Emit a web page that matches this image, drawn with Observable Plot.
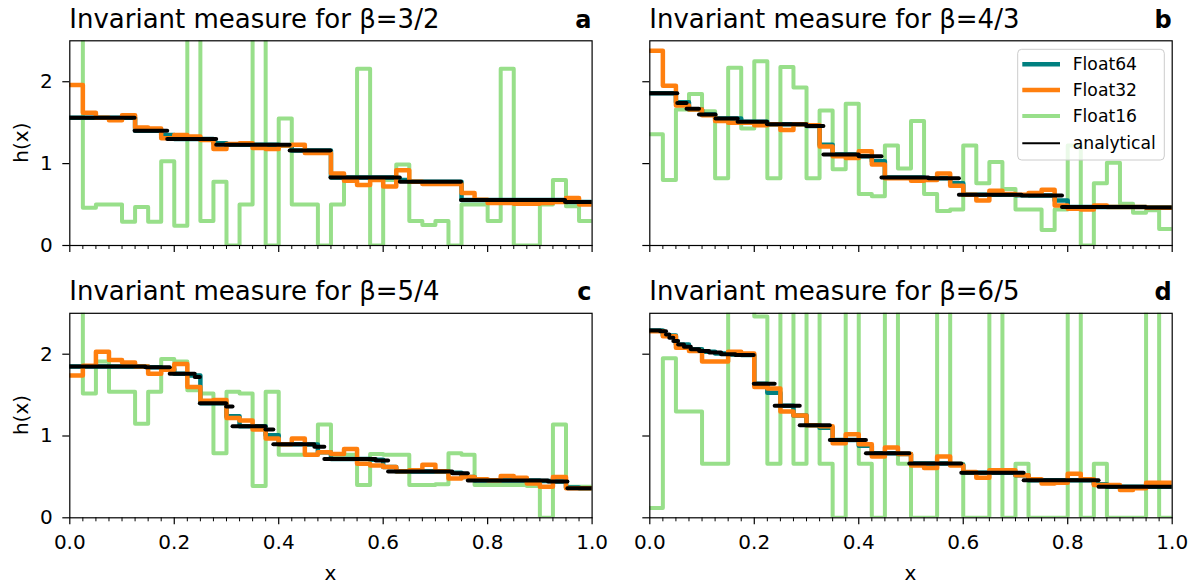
<!DOCTYPE html>
<html><head><meta charset="utf-8">
<script src="https://cdn.jsdelivr.net/npm/d3@7"></script>
<script src="https://cdn.jsdelivr.net/npm/@observablehq/plot@0.6"></script>
<style>
body{margin:0;background:#fff;font-family:"DejaVu Sans",sans-serif;}
#fig{position:relative;width:1199px;height:585px;overflow:hidden;background:#fff;}
.panel{position:absolute;}
#overlay{position:absolute;left:0;top:0;pointer-events:none;}
</style></head><body><div id="fig"></div>
<script>
// ---------- data (40 bins of width 0.025 on [0,1]) ----------
const titles = ["Invariant measure for β=3/2","Invariant measure for β=4/3","Invariant measure for β=5/4","Invariant measure for β=6/5"];
const letters = ["a","b","c","d"];
const seriesNames = ["Float64","Float32","Float16","analytical"];
const xTickLabels = [0, 0.2, 0.4, 0.6, 0.8, 1.0];
const yTickLabels = [0, 1, 2];

// panel a (beta = 3/2)
const f64_a = [1.56,1.56,1.56,1.56,1.56,1.40,1.40,1.35,1.30,1.30,1.30,1.25,1.23,1.23,1.23,1.23,1.22,1.16,1.16,1.16,0.83,0.83,0.83,0.83,0.83,0.80,0.78,0.78,0.78,0.78,0.555,0.555,0.555,0.555,0.555,0.555,0.555,0.555,0.53,0.53];
const f32_a = [1.96,1.62,1.56,1.53,1.59,1.44,1.43,1.31,1.35,1.33,1.29,1.18,1.24,1.25,1.19,1.18,1.22,1.23,1.13,1.13,0.88,0.79,0.74,0.80,0.72,0.92,0.78,0.75,0.75,0.75,0.64,0.56,0.52,0.52,0.51,0.51,0.52,0.53,0.58,0.50];
const f16_a = [3.3,0.46,0.50,0.50,0.29,0.47,0.29,1.03,0.24,3.3,0.30,0.78,0,0.50,3.3,0,1.55,0.50,0.50,0,0.50,0.80,2.16,0,0.80,0.99,0.30,0.25,0.30,0,0.50,0.50,0.30,2.16,0,0,0.50,0.80,0.48,0.30];
const anaBreaks_a = [0,0.125,0.1875,0.28125,0.4219,0.5,0.6328,0.75,0.9492,1];
const anaVals_a = [1.56,1.40,1.30,1.23,1.16,0.83,0.78,0.555,0.53];

// panel b (beta = 4/3)
const f64_b = [1.86,1.86,1.75,1.66,1.60,1.55,1.55,1.51,1.51,1.48,1.48,1.48,1.46,1.23,1.11,1.11,1.09,1.03,0.83,0.83,0.83,0.82,0.82,0.76,0.62,0.62,0.62,0.62,0.615,0.61,0.61,0.55,0.47,0.47,0.47,0.47,0.47,0.47,0.465,0.465];
const f32_b = [2.38,1.95,1.71,1.66,1.59,1.52,1.50,1.50,1.47,1.48,1.41,1.48,1.47,1.21,1.09,1.07,1.15,0.99,0.82,0.82,0.79,0.80,0.88,0.73,0.62,0.55,0.67,0.63,0.62,0.64,0.68,0.49,0.45,0.44,0.49,0.47,0.47,0.47,0.46,0.46];
const f16_b = [1.36,0.80,1.66,1.85,1.64,0.82,2.17,1.43,2.25,0.82,2.18,1.93,0.82,1.65,0.93,1.73,0.63,0.60,1.22,0.94,1.52,0.63,0.42,0.44,1.22,0.76,1.02,0.69,0.44,0.44,0.19,0.44,1.22,0,0.76,1.01,0.51,0.40,0.43,0.20];
const anaBreaks_b = [0,0.0535,0.0713,0.0951,0.1268,0.169,0.2254,0.3006,0.3333,0.4008,0.4444,0.5344,0.5926,0.7125,0.790,0.950,1];
const anaVals_b = [1.86,1.74,1.67,1.60,1.55,1.51,1.48,1.46,1.11,1.09,0.83,0.82,0.62,0.61,0.47,0.465];

// panel c (beta = 5/4)
const f64_c = [1.85,1.85,1.85,1.85,1.85,1.85,1.84,1.82,1.76,1.74,1.40,1.40,1.24,1.12,1.12,1.01,0.90,0.90,0.895,0.80,0.72,0.72,0.72,0.71,0.62,0.565,0.565,0.565,0.565,0.55,0.50,0.455,0.455,0.455,0.455,0.455,0.45,0.445,0.37,0.36];
const f32_c = [1.74,1.86,2.03,1.93,1.90,1.85,1.76,1.81,1.88,1.60,1.43,1.44,1.22,1.19,1.08,0.97,0.90,0.97,0.77,0.80,0.78,0.84,0.66,0.64,0.62,0.57,0.58,0.65,0.57,0.48,0.50,0.47,0.46,0.51,0.49,0.42,0.38,0.50,0.36,0.36];
const f16_c = [3.7,1.52,1.91,1.54,1.54,1.15,1.54,1.94,1.91,1.56,1.52,0.79,1.54,1.52,0.39,1.54,0.77,0.77,0.77,1.14,0.77,0.77,0.40,0.78,0.77,0.77,0.40,0.40,0.41,0.79,0.77,0.40,0.40,0.40,0.40,0.39,0,1.14,0.38,0.38];
const anaBreaks_c = [0,0.1456,0.1922,0.2402,0.25,0.3003,0.3125,0.3754,0.3906,0.4692,0.4883,0.5865,0.6104,0.7332,0.763,0.9165,0.9537,1];
const anaVals_c = [1.85,1.84,1.76,1.72,1.40,1.36,1.12,1.08,0.90,0.87,0.72,0.70,0.565,0.545,0.455,0.445,0.36];

// panel d (beta = 6/5)
const f64_d = [2.29,2.23,2.12,2.06,2.03,2.01,1.995,1.99,1.64,1.53,1.37,1.25,1.13,1.10,0.95,0.95,0.88,0.79,0.79,0.78,0.665,0.665,0.665,0.65,0.55,0.55,0.55,0.55,0.52,0.46,0.46,0.46,0.46,0.46,0.41,0.38,0.38,0.38,0.38,0.38];
const f32_d = [2.28,2.22,2.08,2.04,1.91,1.91,2.03,2.01,1.60,1.58,1.30,1.25,1.13,1.12,0.91,1.02,0.90,0.75,0.86,0.78,0.64,0.61,0.75,0.64,0.56,0.49,0.58,0.58,0.52,0.47,0.42,0.43,0.54,0.47,0.40,0.40,0.34,0.36,0.43,0.43];
const f16_d = [0.12,1.95,1.30,1.30,0.66,0.66,2.65,2.65,2.46,0.66,2.65,0.66,2.65,0.66,0,2.65,0.66,0,2.65,0.66,0,0,2.65,0.66,0,0,2.65,0,0.66,0,0,0,2.65,0,0.66,0,0,0,2.65,0];
const anaBreaks_d = [0,0.0209,0.032,0.0383,0.046,0.0552,0.0663,0.0795,0.0954,0.1145,0.1374,0.1649,0.2,0.24,0.288,0.3456,0.4147,0.4977,0.5972,0.7166,0.86,1];
const anaVals_d = [2.29,2.28,2.24,2.20,2.16,2.12,2.09,2.06,2.04,2.02,2.00,1.99,1.64,1.37,1.13,0.95,0.79,0.665,0.55,0.46,0.38];

// ---------- styling ----------
const C64 = "#008080", C32 = "#ff7f0e", C16 = "#98df8a", CANA = "#000000";
const FONT = "DejaVu Sans";

const edges = d3.range(41).map(k => k / 40);
const minorTicks = edges.filter((_, k) => k % 8 !== 0);

function stepData(vals) {
  return edges.map((x, i) => ({x, y: vals[Math.min(i, vals.length - 1)]}));
}
function segData(breaks, vals) {
  return vals.map((v, i) => ({x1: breaks[i], x2: breaks[i + 1], y: v}));
}

const fig = document.getElementById("fig");

const layout = [
  {left: 0,   top: 0,   width: 600, height: 270, mL: 69.3, mR: 8.4,  mT: 40.3, mB: 25,   xl: false, yl: true},
  {left: 600, top: 0,   width: 599, height: 270, mL: 49.3, mR: 27.3, mT: 40.3, mB: 25,   xl: false, yl: false},
  {left: 0,   top: 270, width: 600, height: 315, mL: 69.3, mR: 8.4,  mT: 42.8, mB: 67.7, xl: true,  yl: true},
  {left: 600, top: 270, width: 599, height: 315, mL: 49.3, mR: 27.3, mT: 42.8, mB: 67.7, xl: true,  yl: false}
];
const data = [
  [f64_a, f32_a, f16_a, anaBreaks_a, anaVals_a],
  [f64_b, f32_b, f16_b, anaBreaks_b, anaVals_b],
  [f64_c, f32_c, f16_c, anaBreaks_c, anaVals_c],
  [f64_d, f32_d, f16_d, anaBreaks_d, anaVals_d]
];

layout.forEach((L, i) => {
  const [f64, f32, f16, br, av] = data[i];
  const chart = Plot.plot({
    width: L.width, height: L.height,
    marginLeft: L.mL, marginRight: L.mR, marginTop: L.mT, marginBottom: L.mB,
    x: {domain: [0, 1]},
    y: {domain: [0, 2.5]},
    style: {fontFamily: FONT, fontSize: "20px", background: "transparent", overflow: "visible", color: "black"},
    marks: [
      Plot.line(stepData(f16), {x: "x", y: "y", curve: "step-after", stroke: C16, strokeWidth: 4, clip: true}),
      Plot.line(stepData(f64), {x: "x", y: "y", curve: "step-after", stroke: C64, strokeWidth: 4.5, clip: true}),
      Plot.line(stepData(f32), {x: "x", y: "y", curve: "step-after", stroke: C32, strokeWidth: 4.5, clip: true}),
      Plot.ruleY(segData(br, av), {x1: "x1", x2: "x2", y: "y", stroke: CANA, strokeWidth: 4, strokeLinecap: "round", clip: true}),
      Plot.frame({stroke: "black", strokeWidth: 1.2}),
      Plot.axisX(xTickLabels, {tickSize: 7, tickPadding: 10, strokeWidth: 1.2, label: null,
        tickFormat: L.xl ? d3.format(".1f") : () => ""}),
      Plot.axisX(minorTicks, {tickSize: 4, strokeWidth: 1, label: null, tickFormat: () => ""}),
      Plot.axisY(yTickLabels, {tickSize: 7, tickPadding: 10, strokeWidth: 1.2, label: null,
        tickFormat: L.yl ? d3.format("d") : () => ""})
    ]
  });
  const div = document.createElement("div");
  div.className = "panel";
  div.style.left = L.left + "px";
  div.style.top = L.top + "px";
  div.appendChild(chart);
  fig.appendChild(div);
});

// ---------- overlay: titles, panel letters, axis labels, legend ----------
const svg = d3.select(fig).append("svg").attr("id", "overlay")
  .attr("width", 1199).attr("height", 585)
  .style("font-family", FONT);

const titlePos = [[69.3, 27.5, 591.5], [649.3, 27.5, 1171.7], [69.3, 300, 591.5], [649.3, 300, 1171.7]];
titlePos.forEach(([x, y, xr], i) => {
  svg.append("text").attr("x", x).attr("y", y).attr("font-size", 26).attr("fill", "black").text(titles[i]);
  svg.append("text").attr("x", xr).attr("y", y).attr("font-size", 24).attr("font-weight", "bold")
    .attr("text-anchor", "end").attr("fill", "black").text(letters[i]);
});
[[28, 142.6], [28, 415]].forEach(([x, y]) => {
  svg.append("text").attr("transform", `translate(${x},${y}) rotate(-90)`).attr("text-anchor", "middle")
    .attr("font-size", 20).text("h(x)");
});
[330.5, 910.5].forEach(x => {
  svg.append("text").attr("x", x).attr("y", 580).attr("text-anchor", "middle").attr("font-size", 20).text("x");
});

// legend in panel b
const lg = svg.append("g").attr("transform", "translate(1017.7,49.3)");
lg.append("rect").attr("width", 146.6).attr("height", 110.7).attr("rx", 4)
  .attr("fill", "rgba(255,255,255,0.8)").attr("stroke", "#cccccc").attr("stroke-width", 1);
const legendColors = [C64, C32, C16, CANA];
const legendWidths = [4.5, 4.5, 4, 2];
[15, 40.7, 66.7, 94].forEach((cy, i) => {
  lg.append("line").attr("x1", 4.6).attr("x2", 42.3).attr("y1", cy).attr("y2", cy)
    .attr("stroke", legendColors[i]).attr("stroke-width", legendWidths[i]);
  lg.append("text").attr("x", 55).attr("y", cy + 6.2).attr("font-size", 17.2).attr("fill", "black").text(seriesNames[i]);
});
</script></body></html>
